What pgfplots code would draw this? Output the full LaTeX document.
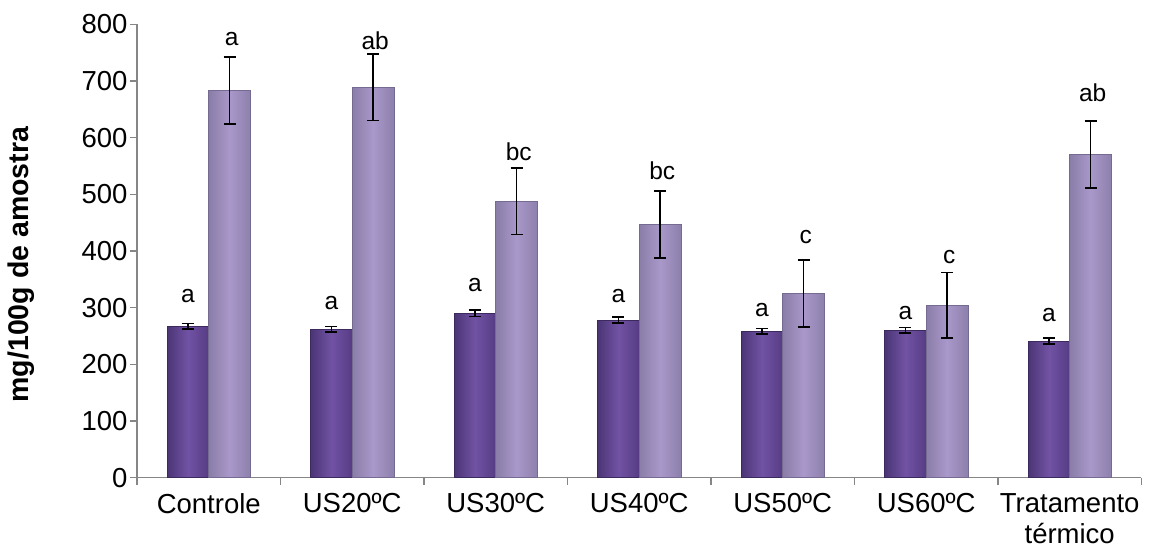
\documentclass[border=0pt]{standalone}
\usepackage{pgfplots}
\pgfplotsset{compat=1.18}
\usepackage{fontspec}
\setmainfont{Liberation Sans}
\definecolor{axisgray}{HTML}{868686}
\definecolor{dL}{HTML}{4B3575}
\definecolor{dM}{HTML}{7152A4}
\definecolor{dR}{HTML}{563C84}
\definecolor{lL}{HTML}{8A7DA8}
\definecolor{lM}{HTML}{A998CA}
\definecolor{lR}{HTML}{8D80AC}
\pgfplotstableread{
xd      dark derr xl     light lerr
-0.145  267  5    0.145  683   59
0.855   262  5    1.145  689   59
1.855   290  5.5  2.145  488   59
2.855   278  5    3.145  447   59
3.855   258  5    4.145  325   59
4.855   260  5    5.145  304   58
5.855   241  5    6.145  570   59
}\datatable
\pgfplotstableread{
x      y    lab
-0.145 321  a
0.855  308  a
1.855  340  a
2.855  321  a
3.855  296  a
4.855  290  a
5.855  287  a
0.16   774  a
1.16   771  ab
2.16   575  bc
3.16   542  bc
4.16   425  c
5.16   389  c
6.16   679  ab
}\lettertable
\begin{document}
\begin{tikzpicture}
\path[use as bounding box] (-137pt,-76.3pt) rectangle (1013pt,477.7pt);
\begin{axis}[
  at={(0,0)}, anchor=south west,
  scale only axis,
  width=1004.5pt, height=453.4pt,
  xmin=-0.5, xmax=6.5,
  ymin=0, ymax=800,
  ytick={0,100,...,800},
  xtick={0,...,6},
  xticklabels={Controle,US20ºC,US30ºC,US40ºC,US50ºC,US60ºC,Tratamento\\térmico},
  minor xtick={-0.5,0.5,...,6.5},
  major x tick style={draw=none},
  tick align=outside,
  major tick length=7pt,
  minor tick length=7pt,
  axis x line*=bottom,
  axis y line*=left,
  axis line style={draw=axisgray, line width=1.2pt},
  every tick/.style={draw=axisgray, line width=1.2pt},
  /pgf/number format/assume math mode=true,
  tick label style={font=\fontsize{27.5}{31}\selectfont, text=black},
  xticklabel style={align=center, yshift=-5pt},
  yticklabel style={xshift=1pt},
  ylabel={mg/100g de amostra},
  ylabel style={font=\bfseries\fontsize{28.5}{32}\selectfont, at={(axis description cs:-0.1155,0.47)}, anchor=center},
  bar width=0.29,
  bar shift=0pt,
  clip=false,
]
\pgfplotsinvokeforeach{0,...,6}{
\addplot[ybar, bar shift=0pt, draw=dL!80!black, line width=0.6pt, left color=dL, right color=dR, middle color=dM,
  restrict expr to domain={\coordindex}{#1:#1},
  error bars/.cd, y dir=both, y explicit,
  error bar style={draw=black, line width=1.7pt},
  error mark options={rotate=90, mark size=6pt, draw=black, line width=1.7pt}]
  table[x=xd, y=dark, y error=derr] {\datatable};
\addplot[ybar, bar shift=0pt, draw=lL!85!black, line width=0.6pt, left color=lL, right color=lR, middle color=lM,
  restrict expr to domain={\coordindex}{#1:#1},
  error bars/.cd, y dir=both, y explicit,
  error bar style={draw=black, line width=1.7pt},
  error mark options={rotate=90, mark size=6pt, draw=black, line width=1.7pt}]
  table[x=xl, y=light, y error=lerr] {\datatable};
}
\addplot[draw=none, mark=none, nodes near coords, point meta=explicit symbolic,
  every node near coord/.style={anchor=center, font=\fontsize{24.5}{28}\selectfont, text=black}]
  table[x=x, y=y, meta=lab] {\lettertable};
\end{axis}
\end{tikzpicture}
\end{document}
